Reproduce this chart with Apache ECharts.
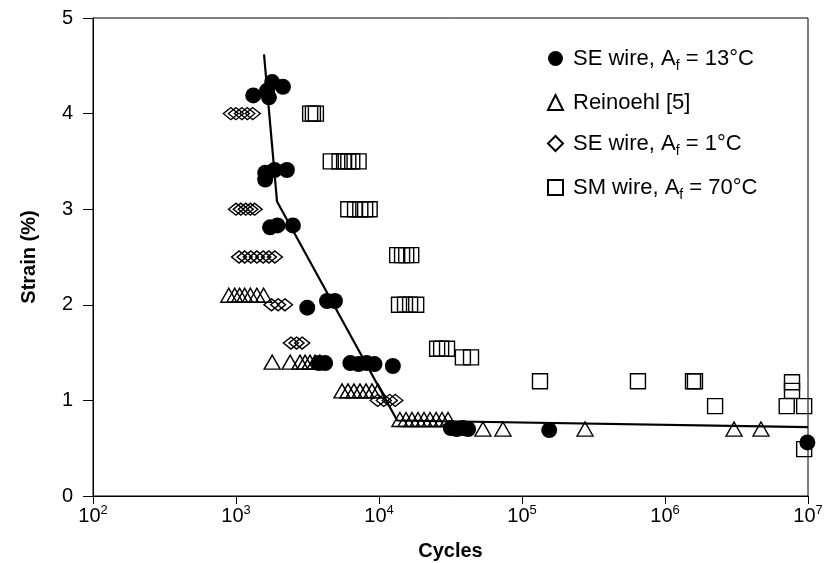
<!DOCTYPE html>
<html><head><meta charset="utf-8">
<script src="https://cdn.jsdelivr.net/npm/echarts@6/dist/echarts.min.js"></script>
<style>html,body{margin:0;padding:0;background:#fff}#c{width:827px;height:563px}</style>
</head><body><div id="c"></div>
<script>
// ---- data (cycles, strain %) ----
const se13Cycles = [1320,1650,1790,2130,1700, 1600,1600,1860,2270, 1730,1950,2500, 3150,4330,4920, 3800,4200,6300,7200,8200,9300,12500, 31800,35000,38500,42000,155000,9900000];
const se13Strain = [4.19,4.24,4.33,4.28,4.17, 3.38,3.31,3.41,3.41, 2.81,2.83,2.83, 1.97,2.04,2.04, 1.39,1.39,1.39,1.38,1.39,1.38,1.36, 0.71,0.70,0.71,0.70,0.69,0.56];

const reinCycles = [890,980,1060,1150,1260,1400,1560, 1790,2390,2800,3040,3290,3570,3860, 5510,6070,6680,7360,8110,8930,9840, 14000,15450,17000,18750,20650,22750,25100,27600,30400, 53300,73600,276000,3040000,4690000];
const reinStrain = [2.1,2.1,2.1,2.1,2.1,2.1,2.1, 1.4,1.4,1.4,1.4,1.4,1.4,1.4, 1.1,1.1,1.1,1.1,1.1,1.1,1.1, 0.8,0.8,0.8,0.8,0.8,0.8,0.8,0.8,0.8, 0.7,0.7,0.7,0.7,0.7];

const se1Cycles = [920,1000,1100,1200,1310, 1000,1080,1170,1260,1350, 1050,1150,1270,1400,1550,1700,1870, 1770,1970,2200, 2420,2650,2900, 9800,10800,11900,13000];
const se1Strain = [4.0,4.0,4.0,4.0,4.0, 3.0,3.0,3.0,3.0,3.0, 2.5,2.5,2.5,2.5,2.5,2.5,2.5, 2.0,2.0,2.0, 1.6,1.6,1.6, 1.0,1.0,1.0,1.0];

const sm70Cycles = [3300,3450,3620, 4600,5300,5700,6100,6500,7200, 6100,6800,7400,8000,8600, 13400,14500,15500,16800, 13800,15200,16500,18200, 25500,27200,29900, 38600,44000, 133600,647000,1570000,1620000, 2240000, 7730000,7730000,7100000,9400000,9400000];
const sm70Strain = [4.0,4.0,4.0, 3.5,3.5,3.5,3.5,3.5,3.5, 3.0,3.0,3.0,3.0,3.0, 2.52,2.52,2.52,2.52, 2.0,2.0,2.0,2.0, 1.54,1.54,1.54, 1.45,1.45, 1.2,1.2,1.2,1.2, 0.94, 1.19,1.1,0.94,0.94,0.49];

const fitCycles = [1570, 1936, 13400, 10000000];
const fitStrain = [4.62, 3.08, 0.79, 0.72];

const seriesNames = ['SE wire, Af = 13°C', 'Reinoehl [5]', 'SE wire, Af = 1°C', 'SM wire, Af = 70°C'];
const legendRich = {
  'SE wire, Af = 13°C': 'SE wire, A{s|f} = 13°C',
  'Reinoehl [5]': 'Reinoehl [5]',
  'SE wire, Af = 1°C': 'SE wire, A{s|f} = 1°C',
  'SM wire, Af = 70°C': 'SM wire, A{s|f} = 70°C'
};
const yTicks = [0,1,2,3,4,5];

function zip(a,b){ return a.map((v,i)=>[v,b[i]]); }
const FONT = 'Liberation Sans, Arial, Helvetica, sans-serif';
const hollow = {color:'transparent', borderColor:'#000', borderWidth:1.4, opacity:1};

const chart = echarts.init(document.getElementById('c'), null, {renderer:'canvas'});
chart.setOption({
  backgroundColor:'#fff',
  animation:false,
  textStyle:{fontFamily:FONT, color:'#000'},
  grid:{left:93, right:19, top:18, bottom:67, show:true, borderColor:'#000', borderWidth:1, backgroundColor:'transparent',
        containLabel:false, outerBoundsMode:'none'},
  xAxis:{
    type:'log', logBase:10, min:100, max:10000000,
    name:'Cycles', nameLocation:'middle', nameGap:45,
    nameTextStyle:{fontSize:20, fontWeight:'bold', color:'#000', fontFamily:FONT},
    axisLine:{show:true, onZero:false, lineStyle:{color:'#000', width:1}},
    axisTick:{show:true, inside:false, length:8, lineStyle:{color:'#000'}},
    minorTick:{show:false},
    splitLine:{show:false},
    axisLabel:{
      margin:8, color:'#000', fontFamily:FONT,
      formatter:function(v){ return '{b|10}{s|' + Math.round(Math.log10(v)) + '}'; },
      rich:{ b:{fontSize:20, lineHeight:24, fontFamily:FONT, color:'#000'}, s:{fontSize:13, verticalAlign:'top', lineHeight:14, fontFamily:FONT, color:'#000'} }
    }
  },
  yAxis:{
    type:'value', min:0, max:5, interval:1,
    name:'Strain (%)', nameLocation:'middle', nameGap:54,
    nameTextStyle:{fontSize:20, fontWeight:'bold', color:'#000', fontFamily:FONT},
    axisLine:{show:true, lineStyle:{color:'#000', width:1}},
    axisTick:{show:true, inside:false, length:10, lineStyle:{color:'#000'}},
    splitLine:{show:false},
    axisLabel:{margin:20, fontSize:20, color:'#000', fontFamily:FONT,
      formatter:function(v){ return yTicks.indexOf(v) >= 0 ? String(v) : ''; }}
  },
  legend:{
    data:seriesNames, orient:'vertical', left:542, top:42,
    itemWidth:15, itemHeight:15, itemGap:18, selectedMode:false,
    formatter:function(n){ return legendRich[n]; },
    textStyle:{fontSize:22, color:'#000', fontFamily:FONT, lineHeight:23, padding:[0,0,0,5],
      rich:{ s:{fontSize:14, verticalAlign:'bottom', lineHeight:23, fontFamily:FONT, color:'#000', padding:[0,0,-3,0]} }}
  },
  series:[
    {name:'fit', type:'line', data:zip(fitCycles, fitStrain), symbol:'none', silent:true,
     lineStyle:{color:'#000', width:2.2}, z:3},
    {name:seriesNames[3], type:'scatter', data:zip(sm70Cycles, sm70Strain), symbol:'rect', symbolSize:[15,15],
     itemStyle:hollow, z:4},
    {name:seriesNames[1], type:'scatter', data:zip(reinCycles, reinStrain), symbol:'triangle', symbolSize:[16,14],
     itemStyle:hollow, z:4},
    {name:seriesNames[2], type:'scatter', data:zip(se1Cycles, se1Strain), symbol:'diamond', symbolSize:[15,12],
     itemStyle:hollow, z:4},
    {name:seriesNames[0], type:'scatter', data:zip(se13Cycles, se13Strain), symbol:'circle', symbolSize:16,
     itemStyle:{color:'#000', opacity:1}, z:5}
  ]
});
</script></body></html>
